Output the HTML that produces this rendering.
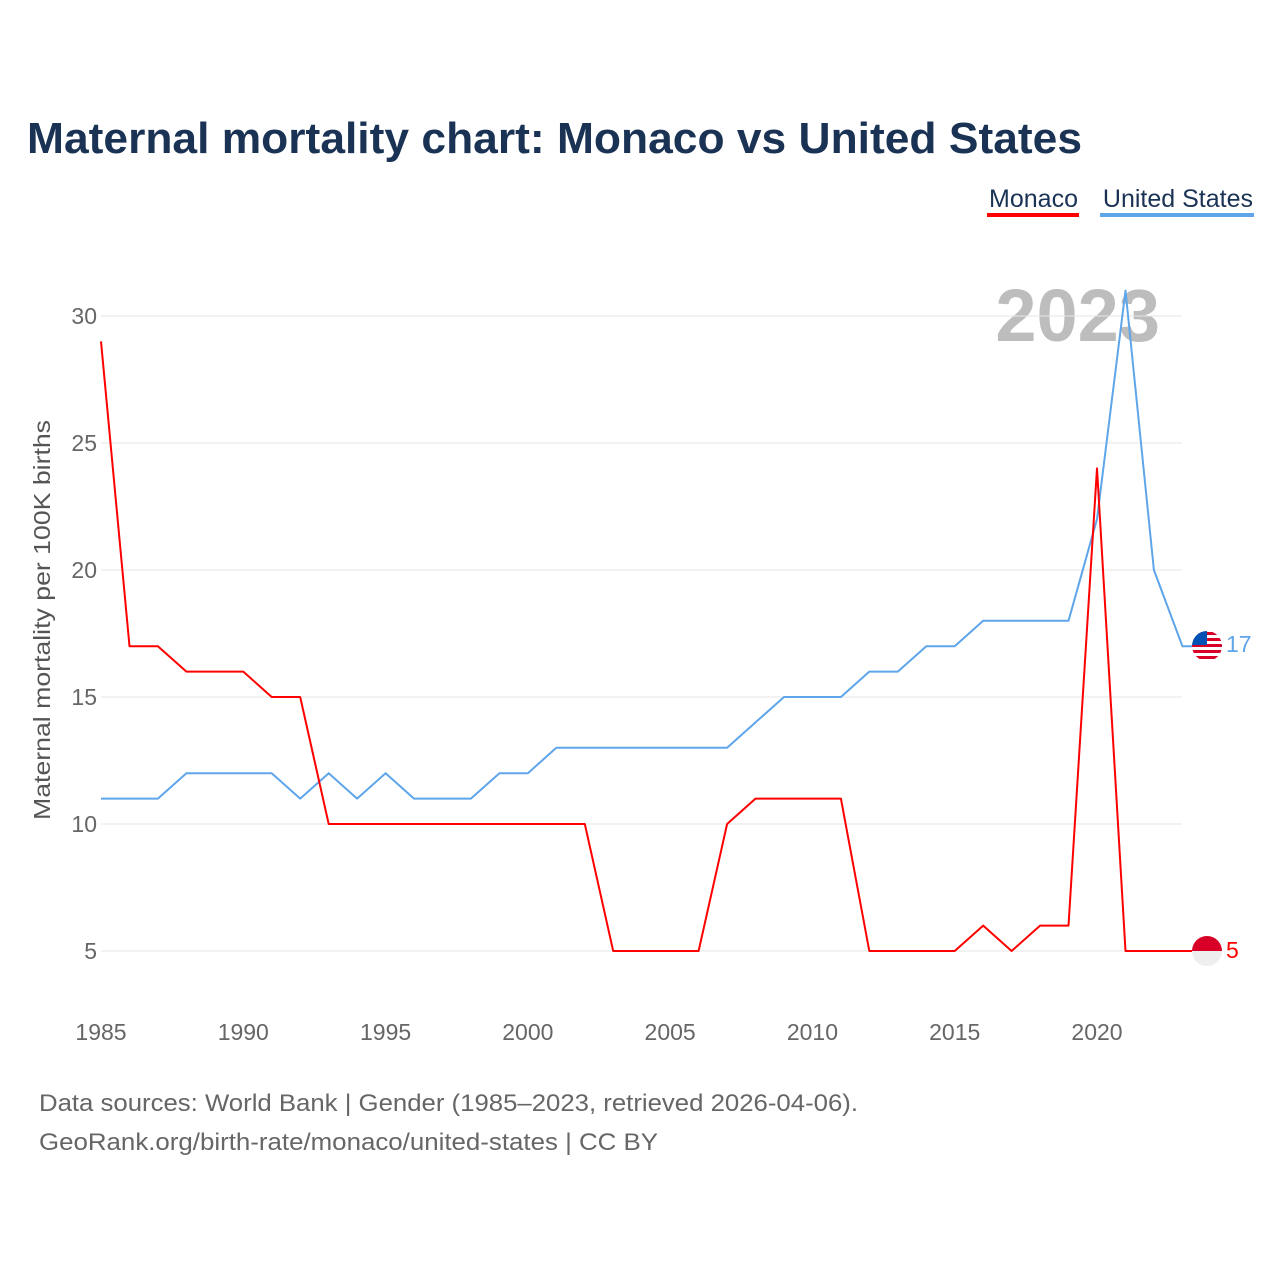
<!DOCTYPE html>
<html><head><meta charset="utf-8"><style>
body{margin:0;background:#fff;width:1280px;height:1280px;overflow:hidden;font-family:"Liberation Sans",sans-serif}
</style></head><body>
<svg width="1280" height="1280" xmlns="http://www.w3.org/2000/svg">
<text x="27" y="153" font-size="44" font-weight="bold" fill="#1a3354" textLength="1055" lengthAdjust="spacingAndGlyphs">Maternal mortality chart: Monaco vs United States</text>
<g>
<text x="1078" y="207" font-size="25" fill="#1a3354" text-anchor="end">Monaco</text>
<rect x="987" y="213" width="92" height="4" fill="#ff0000"/>
<text x="1253" y="207" font-size="25" fill="#1a3354" text-anchor="end">United States</text>
<rect x="1100" y="213" width="154" height="4" fill="#5ea5ea"/>
</g>
<text x="1160" y="341" font-size="74" font-weight="bold" fill="#bdbdbd" text-anchor="end">2023</text>
<g id="grid"></g><g id="xt"></g><g id="lines"></g>
<text transform="translate(50,620) rotate(-90)" font-size="23" fill="#555" text-anchor="middle" textLength="400" lengthAdjust="spacingAndGlyphs">Maternal mortality per 100K births</text>
<g>
<clipPath id="cu"><circle cx="1207" cy="646" r="15"/></clipPath>
<g clip-path="url(#cu)">
<rect x="1190" y="630" width="34" height="32" fill="#fff"/>
<rect x="1190" y="632" width="34" height="3" fill="#d80027"/><rect x="1190" y="638" width="34" height="3" fill="#d80027"/><rect x="1190" y="644" width="34" height="3" fill="#d80027"/><rect x="1190" y="650" width="34" height="3" fill="#d80027"/><rect x="1190" y="656" width="34" height="3" fill="#d80027"/>
<rect x="1190" y="630" width="17" height="15" fill="#0052b4"/>
</g></g>
<text x="1226" y="652" font-size="23" fill="#5ea5ea">17</text>
<g>
<clipPath id="cm"><circle cx="1207" cy="951" r="15"/></clipPath>
<g clip-path="url(#cm)"><rect x="1190" y="934" width="34" height="17" fill="#d80027"/><rect x="1190" y="951" width="34" height="17" fill="#eee"/></g></g>
<text x="1226" y="958" font-size="23" fill="#ff0000">5</text>
<text x="39" y="1111" font-size="24" fill="#666" textLength="819" lengthAdjust="spacingAndGlyphs">Data sources: World Bank | Gender (1985–2023, retrieved 2026-04-06).</text>
<text x="39" y="1150" font-size="24" fill="#666" textLength="619" lengthAdjust="spacingAndGlyphs">GeoRank.org/birth-rate/monaco/united-states | CC BY</text>
</svg>
<script>
const years=[];for(let y=1985;y<=2023;y++)years.push(y);
const monaco=[29,17,17,16,16,16,15,15,10,10,10,10,10,10,10,10,10,10,5,5,5,5,10,11,11,11,11,5,5,5,5,6,5,6,6,24,5,5,5];
const unitedStates=[11,11,11,12,12,12,12,11,12,11,12,11,11,11,12,12,13,13,13,13,13,13,13,14,15,15,15,16,16,17,17,18,18,18,18,22,31,20,17];
const yTicks=[5,10,15,20,25,30];
const xTicks=[1985,1990,1995,2000,2005,2010,2015,2020];
const NS='http://www.w3.org/2000/svg';
const X=y=>101+(y-1985)*(996/35);
const Y=v=>951-(v-5)*25.4;
function mk(t,a,p){const e=document.createElementNS(NS,t);for(const k in a)e.setAttribute(k,a[k]);p.appendChild(e);return e;}
const g=document.getElementById('grid');
yTicks.forEach(v=>{
 const l=mk('line',{x1:101,x2:1182,y1:Y(v),y2:Y(v),stroke:'#e6e6e6','stroke-width':1},g);
 
 
 const t=mk('text',{x:97,y:Y(v)+8,'font-size':23,fill:'#666','text-anchor':'end'},g);t.textContent=v;
 
 
});
const xt=document.getElementById('xt');
xTicks.forEach(v=>{
 const t=mk('text',{x:X(v),y:1040,'font-size':23,fill:'#666','text-anchor':'middle'},xt);t.textContent=v;
 
 
});
const lg=document.getElementById('lines');
function line(d,c,n){
 let p=d.map((v,i)=>(i?'L':'M')+X(years[i]).toFixed(1)+','+Y(v).toFixed(1)).join(' ');
 p+=' L1192,'+Y(d[d.length-1]).toFixed(1);
 const e=mk('path',{d:p,fill:'none',stroke:c,'stroke-width':2,'stroke-linejoin':'round'},lg);
 
 
}
line(unitedStates,'#5ea5ea','united-states-line');
line(monaco,'#ff0000','monaco-line');
</script>
</body></html>
